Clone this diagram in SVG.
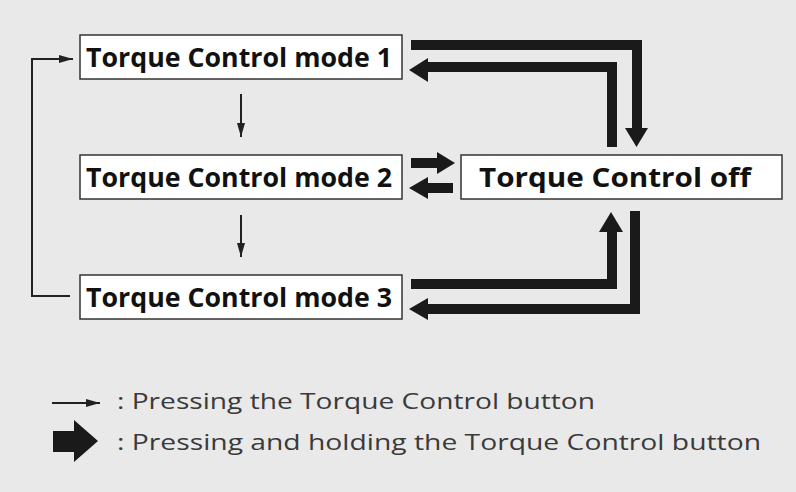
<svg xmlns="http://www.w3.org/2000/svg" width="796" height="492" viewBox="0 0 796 492">
<defs>
<style>
.box{fill:#fff;stroke:#333;stroke-width:1.5}
.lbl{font-family:"Open Sans","Liberation Sans",sans-serif;font-weight:bold;font-size:27px;fill:#111}
.thin{fill:none;stroke:#222;stroke-width:2}
.thick{fill:none;stroke:#1a1a1a;stroke-width:10;stroke-linejoin:miter}
.head{fill:#1a1a1a}
.leg{font-family:"Open Sans","Liberation Sans",sans-serif;font-size:22px;fill:#3a3a3a}
</style>
<marker id="ah" viewBox="0 0 14 10" refX="14" refY="5" markerWidth="14" markerHeight="10" markerUnits="userSpaceOnUse" orient="auto">
<path d="M0,1 L14,5 L0,9 Z" fill="#222"/>
</marker>
</defs>
<rect x="0" y="0" width="796" height="492" fill="#e9e9e9"/>
<g id="mode1">
<rect class="box" x="80" y="35" width="322" height="44"/>
<text class="lbl" x="86" y="67" textLength="306" lengthAdjust="spacingAndGlyphs">Torque Control mode 1</text>
</g>
<g id="mode2">
<rect class="box" x="80" y="155" width="322" height="44"/>
<text class="lbl" x="86" y="187" textLength="306" lengthAdjust="spacingAndGlyphs">Torque Control mode 2</text>
</g>
<g id="mode3">
<rect class="box" x="80" y="275" width="322" height="44"/>
<text class="lbl" x="86" y="307" textLength="306" lengthAdjust="spacingAndGlyphs">Torque Control mode 3</text>
</g>
<g id="off">
<rect class="box" x="461" y="155" width="321" height="44"/>
<text class="lbl" x="479" y="187" textLength="272" lengthAdjust="spacingAndGlyphs">Torque Control off</text>
</g>
<g id="connectors">
<line class="thin" x1="241" y1="94" x2="241" y2="137" marker-end="url(#ah)"/>
<line class="thin" x1="241" y1="215" x2="241" y2="257" marker-end="url(#ah)"/>
<polyline class="thin" points="70,296 32,296 32,59 73,59" marker-end="url(#ah)"/>
<polyline class="thick" points="411,45 637,45 637,129"/>
<polygon class="head" points="625,128 648,128 636.5,147"/>
<polyline class="thick" points="612,147 612,67 427,67"/>
<polygon class="head" points="428,58 428,82 409,70"/>
<line class="thick" x1="411" y1="163" x2="438" y2="163"/>
<polygon class="head" points="437,152 437,174 455,163"/>
<line class="thick" x1="427" y1="188" x2="453" y2="188"/>
<polygon class="head" points="428,177 428,199 409,188"/>
<polyline class="thick" points="411,284 612,284 612,231"/>
<polygon class="head" points="599,232 623,232 611,212"/>
<polyline class="thick" points="635,211 635,309 427,309"/>
<polygon class="head" points="428,298 428,320 409,309"/>
</g>
<g id="legend">
<line class="thin" x1="52" y1="403" x2="100" y2="403" marker-end="url(#ah)"/>
<text class="leg" x="117" y="409" textLength="478" lengthAdjust="spacingAndGlyphs">: Pressing the Torque Control button</text>
<polygon class="head" points="53,431 74,431 74,420 98,441 74,462 74,452 53,452"/>
<text class="leg" x="117" y="450" textLength="644" lengthAdjust="spacingAndGlyphs">: Pressing and holding the Torque Control button</text>
</g>
</svg>
